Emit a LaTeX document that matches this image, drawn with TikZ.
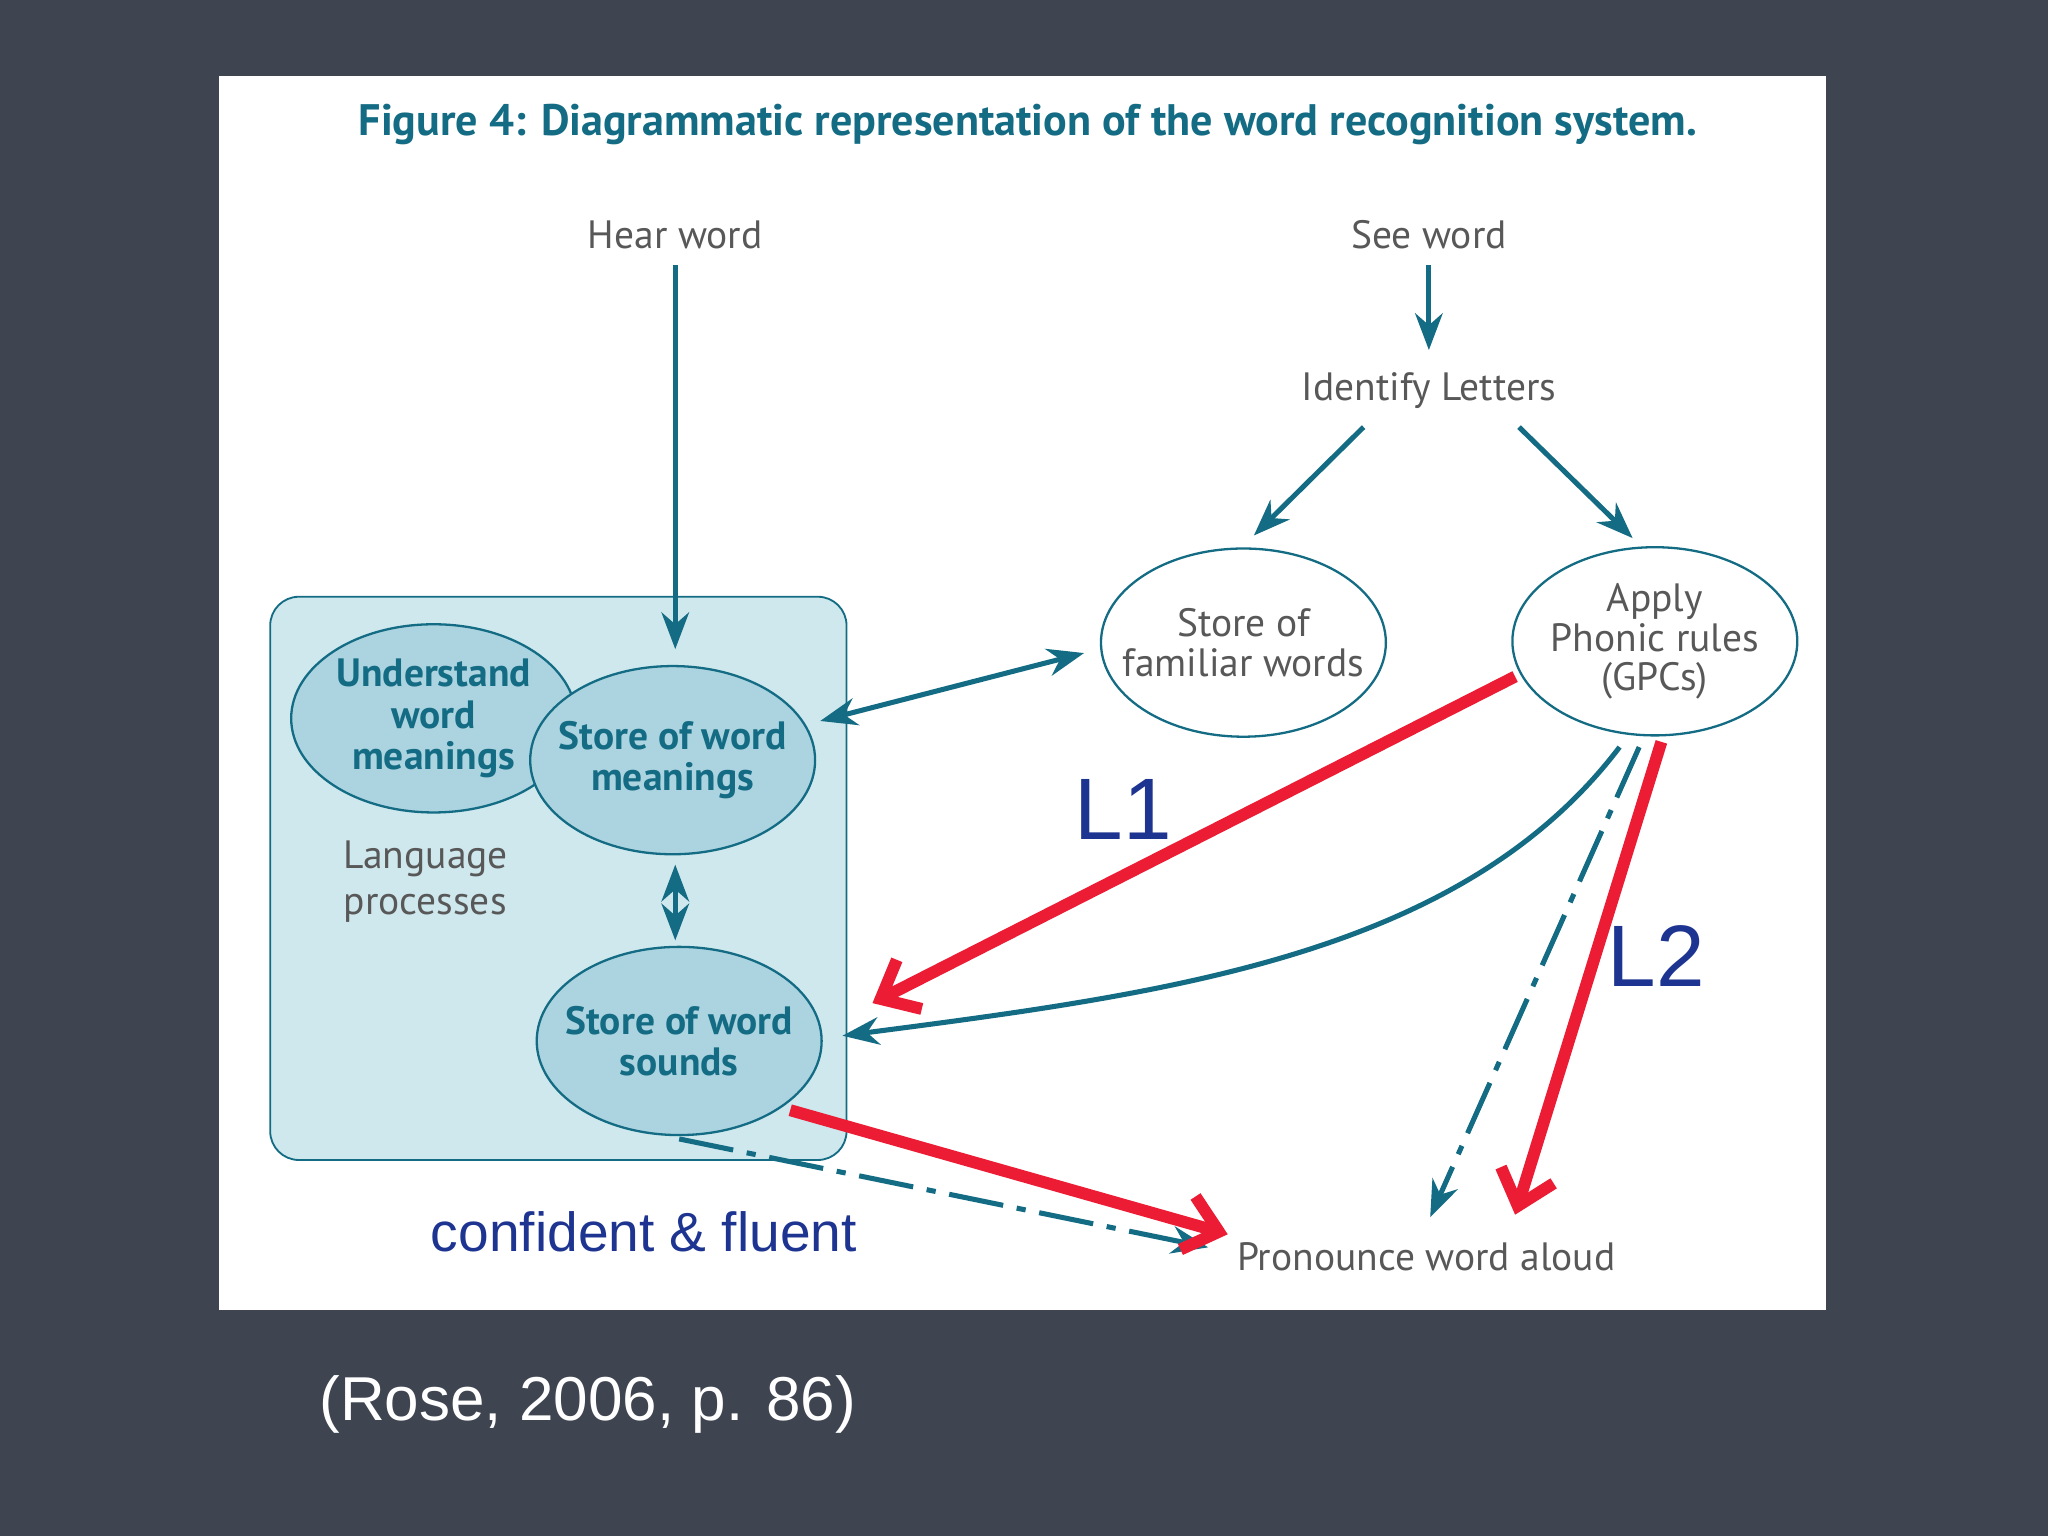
\documentclass[tikz,border=0pt]{standalone}
\usepackage{fontspec}
\setmainfont{PT Sans}
\newfontfamily\arial{Liberation Sans}
\usetikzlibrary{arrows.meta,shapes.geometric}
\definecolor{bg}{RGB}{62,68,80}
\definecolor{teal}{RGB}{20,108,132}
\definecolor{lbox}{RGB}{206,232,238}
\definecolor{lell}{RGB}{172,212,224}
\definecolor{gtxt}{RGB}{88,88,88}
\definecolor{lblue}{RGB}{30,52,145}
\definecolor{myred}{RGB}{236,28,52}
\begin{document}
\begin{tikzpicture}[x=0.01cm,y=-0.01cm,
 lbl/.style={text=gtxt,font=\fontsize{8.6}{10}\selectfont,align=center},
 ell/.style={ellipse,draw=teal,line width=0.5pt,minimum width=2.18cm,minimum height=1.44cm,inner xsep=-14pt,inner ysep=-6pt,align=center},
 bell/.style={ell,fill=lell,text=teal,font=\bfseries\fontsize{8.6}{9}\selectfont},
 wel/.style={ell,fill=white,text=gtxt,font=\fontsize{8.6}{8.6}\selectfont},
 tarr/.style={draw=teal,line width=1.1pt,-{Stealth[length=8pt,width=6pt]}},
 rarr/.style={draw=myred,line width=2.6pt,-{Straight Barb[length=7pt,width=12pt]}},
 dd/.style={tarr,dash pattern=on 12pt off 3pt on 2pt off 3pt}]
\useasboundingbox (0,0) rectangle (1568,1176);
\fill[bg] (0,0) rectangle (1568,1176);
\fill[white] (168,58) rectangle (1398,1003);
\node[text=teal,font=\bfseries\fontsize{9.6}{10}\selectfont] (title) at (787,95) {Figure 4: Diagrammatic representation of the word recognition system.};
\node[draw=teal,fill=lbox,rounded corners=0.22cm,minimum width=4.41cm,minimum height=4.31cm,inner sep=0pt] (box) at (427.5,672.5) {};
\node[lbl] (hear) at (517,180) {Hear word};
\node[lbl] (see) at (1094,180) {See word};
\node[lbl] (ident) at (1094,299) {Identify Letters};
\node[wel] (fam) at (952,492) {Store of\\familiar words};
\node[wel] (gpc) at (1267,491) {Apply\\Phonic rules\\(GPCs)};
\node[bell] (und) at (332,550) {Understand\\word\\meanings};
\node[bell] (mean) at (515,582) {Store of word\\meanings};
\node[lbl,align=left] (lang) at (326,675) {Language\\processes};
\node[bell] (snd) at (520,797) {Store of word\\sounds};
\node[lbl] (pron) at (1092,962) {Pronounce word aloud};
\coordinate (hs) at (517,203); \coordinate (he) at (517,497);
\draw[tarr] (hs) -- (he);
\coordinate (ss) at (1094,203); \coordinate (se) at (1094,268);
\draw[tarr] (ss) -- (se);
\coordinate (i1) at (1044,327); \coordinate (f1) at (960,410);
\draw[tarr] (i1) -- (f1);
\coordinate (i2) at (1163,327); \coordinate (g1) at (1250,412);
\draw[tarr] (i2) -- (g1);
\coordinate (m1) at (517,662); \coordinate (s1) at (517,720);
\draw[tarr,{Stealth[length=8pt,width=6pt]}-{Stealth[length=8pt,width=6pt]}] (m1) -- (s1);
\coordinate (m2) at (628,552); \coordinate (f2) at (830,500);
\draw[tarr,{Stealth[length=8pt,width=6pt]}-{Stealth[length=8pt,width=6pt]}] (m2) -- (f2);
\coordinate (g2) at (1240,572); \coordinate (s2) at (645,793);
\draw[tarr] (g2) .. controls (1120,730) and (900,760) .. (s2);
\coordinate (g3) at (1255,572); \coordinate (p1) at (1095,932);
\draw[dd] (g3) -- (p1);
\coordinate (s3) at (520,872); \coordinate (p2) at (925,955);
\draw[dd] (s3) -- (p2);
\coordinate (r1s) at (1160,518); \coordinate (r1e) at (668,768);
\draw[rarr] (r1s) -- (r1e);
\coordinate (r2s) at (1272,568); \coordinate (r2e) at (1160,930);
\draw[rarr] (r2s) -- (r2e);
\coordinate (r3s) at (605,850); \coordinate (r3e) at (940,945);
\draw[rarr] (r3s) -- (r3e);
\node[text=lblue,font=\arial\fontsize{19}{20}\selectfont] (l1) at (860,620) {L1};
\node[text=lblue,font=\arial\fontsize{19}{20}\selectfont] (l2) at (1268,732) {L2};
\node[text=lblue,font=\arial\fontsize{12}{13}\selectfont] (cf) at (493,943) {confident \& fluent};
\node[text=white,font=\arial\fontsize{13.5}{14}\selectfont] (rose) at (450,1075) {(Rose, 2006, p. 86)};
\end{tikzpicture}
\end{document}
